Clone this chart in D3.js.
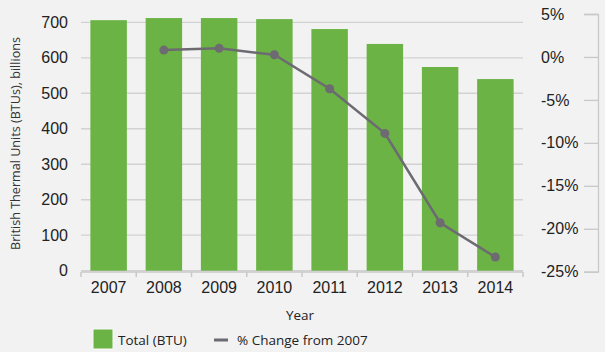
<!DOCTYPE html>
<html>
<head>
<meta charset="utf-8">
<script src="https://cdn.jsdelivr.net/npm/d3@7"></script>
<style>
  body { margin: 0; background: #f2f2f2; }
  svg { display: block; font-family: "Open Sans", "Noto Sans", sans-serif; }
  .tick text { fill: #222; }
</style>
</head>
<body>
<div class="chart"></div>
<script>
// chart data
const years = ["2007", "2008", "2009", "2010", "2011", "2012", "2013", "2014"];
const totalBtu = [706, 712, 712, 709, 681, 639, 574, 540];
const pctYears = ["2008", "2009", "2010", "2011", "2012", "2013", "2014"];
const pctChange = [0.8, 1.0, 0.25, -3.7, -8.9, -19.3, -23.3];
const leftTicks = [0, 100, 200, 300, 400, 500, 600, 700];
const rightTicks = [5, 0, -5, -10, -15, -20, -25];

const widthOfSvg = 605;
const heightOfSvg = 352;
const plotLeft = 81, plotRight = 523, plotTop = 22.3, plotBottom = 270.7;

const svg = d3.select(".chart")
  .append("svg")
  .attr("width", widthOfSvg)
  .attr("height", heightOfSvg);

const xScale = d3.scaleBand()
  .domain(years)
  .range([plotLeft, plotRight])
  .paddingInner(0.34)
  .paddingOuter(0.17);

const yScale = d3.scaleLinear()
  .domain([0, 700])
  .range([plotBottom, plotTop]);

const y2Scale = d3.scaleLinear()
  .domain([-25, 5])
  .range([271.7, 14]);

// gridlines
svg.append("g")
  .selectAll("line")
  .data(leftTicks)
  .enter()
  .append("line")
  .attr("x1", plotLeft)
  .attr("x2", plotRight)
  .attr("y1", d => yScale(d))
  .attr("y2", d => yScale(d))
  .attr("stroke", "#d2d2d2")
  .attr("stroke-width", 1.3);

// bars
svg.append("g")
  .selectAll("rect")
  .data(years)
  .enter()
  .append("rect")
  .attr("x", d => xScale(d))
  .attr("y", (d, i) => yScale(totalBtu[i]))
  .attr("width", xScale.bandwidth())
  .attr("height", (d, i) => plotBottom - yScale(totalBtu[i]))
  .attr("fill", "#6ab344");

// x axis
const xAxis = svg.append("g")
  .attr("transform", "translate(0," + 272 + ")")
  .call(d3.axisBottom(xScale).tickSize(0).tickPadding(10));
xAxis.select(".domain").attr("stroke", "#c8c8c8").attr("stroke-width", 1.5)
  .attr("d", "M" + plotLeft + ",0H" + plotRight);
xAxis.selectAll(".tick text").attr("font-size", 16);
// band boundary ticks
xAxis.append("g")
  .selectAll("line")
  .data(years.concat(["end"]))
  .enter()
  .append("line")
  .attr("x1", (d, i) => i < years.length ? xScale(d) - xScale.step() * xScale.paddingInner() / 2 : plotRight)
  .attr("x2", (d, i) => i < years.length ? xScale(d) - xScale.step() * xScale.paddingInner() / 2 : plotRight)
  .attr("y1", 0)
  .attr("y2", 5)
  .attr("stroke", "#c8c8c8")
  .attr("stroke-width", 1.5);

// left axis
const yAxis = svg.append("g")
  .attr("transform", "translate(" + 68 + ",0)")
  .call(d3.axisLeft(yScale).tickValues(leftTicks).tickSize(0).tickPadding(0));
yAxis.select(".domain").remove();
yAxis.selectAll(".tick text").attr("font-size", 16);

// right axis
const y2Axis = svg.append("g")
  .attr("transform", "translate(" + 598 + ",0)")
  .call(d3.axisLeft(y2Scale).tickValues(rightTicks).tickSize(14).tickFormat(d => d + "%"));
y2Axis.select(".domain").attr("stroke", "#c8c8c8").attr("stroke-width", 1.3);
y2Axis.selectAll(".tick line").attr("stroke", "#c8c8c8").attr("stroke-width", 1.3);
y2Axis.selectAll(".tick text")
  .attr("font-size", 16)
  .attr("text-anchor", "start")
  .attr("x", -57);

// line
const lineGen = d3.line()
  .x((d, i) => xScale(pctYears[i]) + xScale.bandwidth() / 2)
  .y(d => y2Scale(d));

svg.append("path")
  .datum(pctChange)
  .attr("d", lineGen)
  .attr("fill", "none")
  .attr("stroke", "#6d6a72")
  .attr("stroke-width", 2.5);

svg.append("g")
  .selectAll("circle")
  .data(pctChange)
  .enter()
  .append("circle")
  .attr("cx", (d, i) => xScale(pctYears[i]) + xScale.bandwidth() / 2)
  .attr("cy", d => y2Scale(d))
  .attr("r", 4.5)
  .attr("fill", "#6d6a72");

// axis titles
svg.append("text")
  .attr("transform", "translate(20," + 143.5 + ") rotate(-90)")
  .attr("text-anchor", "middle")
  .attr("font-size", 12.6)
  .attr("fill", "#333")
  .text("British Thermal Units (BTUs), billions");

svg.append("text")
  .attr("x", 300)
  .attr("y", 320)
  .attr("text-anchor", "middle")
  .attr("font-size", 13.5)
  .attr("fill", "#222")
  .text("Year");

// legend
svg.append("rect")
  .attr("x", 93).attr("y", 329)
  .attr("width", 20).attr("height", 20)
  .attr("fill", "#6ab344")
  .attr("stroke", "#fafafa")
  .attr("stroke-width", 1);
svg.append("text")
  .attr("x", 118).attr("y", 344.5)
  .attr("font-size", 13.5)
  .attr("fill", "#222")
  .text("Total (BTU)");
svg.append("line")
  .attr("x1", 214).attr("x2", 228)
  .attr("y1", 340).attr("y2", 340)
  .attr("stroke", "#6d6a72")
  .attr("stroke-width", 3);
svg.append("text")
  .attr("x", 237).attr("y", 344.5)
  .attr("font-size", 13.5)
  .attr("fill", "#222")
  .text("% Change from 2007");
</script>
</body>
</html>
